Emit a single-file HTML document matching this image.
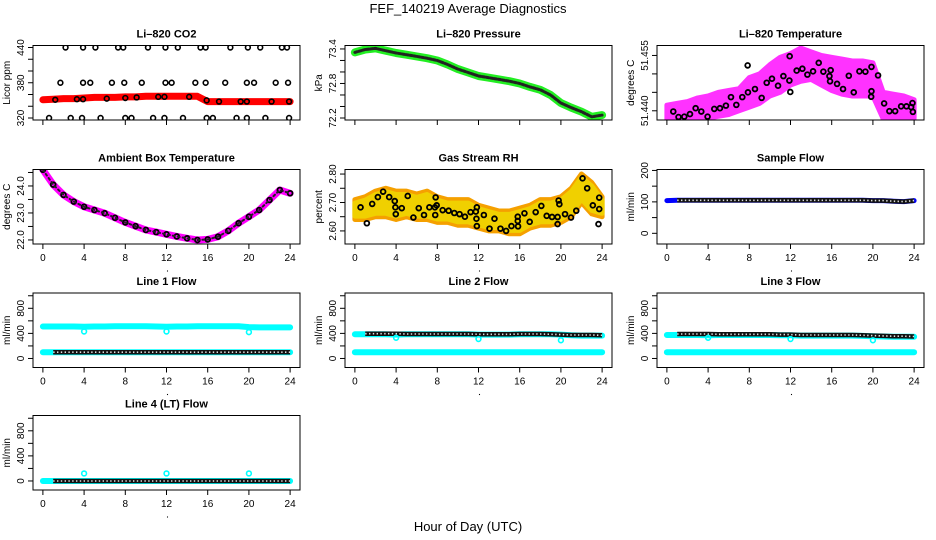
<!DOCTYPE html>
<html><head><meta charset="utf-8">
<style>
body{margin:0;background:#fff;}
svg{display:block;font-family:"Liberation Sans",Arial,sans-serif;}
</style></head>
<body>
<svg id="chart" width="936" height="540" viewBox="0 0 936 540">
<rect width="936" height="540" fill="#fff"/>
<text x="468" y="13" text-anchor="middle" font-size="13">FEF_140219  Average Diagnostics</text>
<text x="468" y="531" text-anchor="middle" font-size="13">Hour of Day (UTC)</text>
</svg>
<script>
// ---------- data ----------
const hours = [0,1,2,3,4,5,6,7,8,9,10,11,12,13,14,15,16,17,18,19,20,21,22,23,24];
const xTicks = [0,4,8,12,16,20,24];
// CO2
const co2Band = [351,352,353,353,354,355,355,355,356,356,357,357,357,357,357,357,348,348,348,348,348,348,348,348,348];
const co2HighH = [2.2,3.9,5.1,7.3,7.8,10.2,11.9,13.1,15.3,15.8,18.2,19.9,21.1,23.2,23.7];
const co2MidH = [1.7,3.9,4.6,6.7,7.9,9.6,11.9,12.5,14.8,15.8,17.7,19.8,20.5,22.6,23.8];
const co2LowH = [0.6,2.7,3.8,5.6,8.0,8.6,10.7,11.8,13.6,15.9,16.5,18.8,19.8,21.6,23.9];
const co2BandPtsH = [1.2,3.3,3.9,6.2,8.0,9.1,11.2,11.8,14.2,15.9,17.1,19.2,19.8,22.2,23.9];
const co2BandPtsV = [351,352,352,353,354,355,356,356,356,350,348,348,348,348,348];
// Pressure
const pressure = [73.34,73.39,73.41,73.37,73.33,73.30,73.27,73.24,73.20,73.13,73.05,72.99,72.93,72.90,72.87,72.84,72.80,72.74,72.69,72.60,72.46,72.38,72.31,72.22,72.25];
// Li-820 temperature
const tempUpper = [51.4415,51.4420,51.4425,51.4435,51.4440,51.4450,51.4455,51.4460,51.4490,51.4500,51.4525,51.4545,51.4555,51.4570,51.4560,51.4550,51.4545,51.4540,51.4535,51.4535,51.4530,51.4450,51.4445,51.4440,51.4430];
const tempLower = [51.4375,51.4375,51.4375,51.4375,51.4380,51.4385,51.4390,51.4400,51.4410,51.4420,51.4440,51.4450,51.4470,51.4480,51.4485,51.4470,51.4455,51.4445,51.4440,51.4440,51.4440,51.4378,51.4375,51.4375,51.4380];
const tempPtH = [0.62,1.13,1.69,2.24,2.79,3.34,3.95,4.6,5.15,5.73,6.22,6.74,7.32,7.84,7.87,8.55,9.2,9.69,10.2,10.79,11.31,11.89,11.92,11.98,12.6,13.15,13.64,14.19,14.74,15.19,15.78,15.9,15.84,16.52,17.1,17.66,18.14,18.69,19.27,19.86,19.86,19.83,20.5,21.09,21.6,22.16,22.74,23.26,23.71,23.84,23.88];
const tempPtV = [51.4398,51.4383,51.4384,51.4391,51.4407,51.4398,51.4384,51.4405,51.4407,51.4414,51.4437,51.4416,51.4437,51.4523,51.4450,51.4459,51.4435,51.4476,51.4487,51.4468,51.4494,51.4482,51.4548,51.4451,51.4509,51.4514,51.4498,51.4507,51.4530,51.4506,51.4494,51.4510,51.4480,51.4473,51.4459,51.4495,51.4450,51.4507,51.4506,51.4519,51.4453,51.4438,51.4496,51.4420,51.4399,51.4399,51.4412,51.4412,51.4410,51.4421,51.4397];
// Ambient
const ambient = [24.60,24.05,23.67,23.42,23.23,23.11,22.99,22.82,22.65,22.51,22.37,22.29,22.21,22.13,22.06,22.00,22.02,22.12,22.34,22.62,22.86,23.11,23.48,23.85,23.73];
// RH
const rhLower = [2.64,2.64,2.65,2.65,2.64,2.65,2.64,2.64,2.63,2.63,2.62,2.62,2.61,2.60,2.60,2.59,2.59,2.61,2.62,2.62,2.63,2.65,2.70,2.66,2.65];
const rhUpper = [2.71,2.72,2.74,2.75,2.74,2.74,2.73,2.74,2.72,2.71,2.71,2.71,2.69,2.68,2.67,2.67,2.68,2.69,2.71,2.71,2.72,2.75,2.80,2.77,2.72];
const rhPtH = [0.55,1.16,1.68,2.23,2.74,3.33,3.87,3.93,3.97,4.55,5.13,5.68,6.2,6.71,7.23,7.77,7.84,7.8,7.94,8.52,9.1,9.65,10.16,10.68,11.23,11.74,11.84,11.8,11.84,12.52,13.07,13.55,14.13,14.68,15.2,15.81,15.81,15.84,16.46,16.97,17.55,18.1,18.62,19.14,19.68,19.78,19.85,19.68,20.4,20.98,21.49,22.1,22.55,23.1,23.72,23.72,23.65];
const rhPtV = [2.683,2.627,2.695,2.719,2.738,2.719,2.705,2.683,2.659,2.680,2.723,2.647,2.680,2.656,2.683,2.683,2.718,2.656,2.690,2.673,2.671,2.663,2.659,2.650,2.666,2.668,2.683,2.643,2.617,2.656,2.608,2.643,2.608,2.600,2.617,2.650,2.635,2.616,2.662,2.632,2.666,2.688,2.653,2.649,2.649,2.707,2.694,2.624,2.659,2.647,2.671,2.785,2.750,2.690,2.717,2.677,2.624];
// Sample flow
const sampleFlow = [104,105,105,105,105,105,105,105,105,105,105,105,105,105,105,105,105,105,105,105,104,104,102,101,104];
// Line flows
const line1High = [510,510,510,510,505,510,510,515,515,515,515,510,505,510,510,515,515,515,515,515,500,495,495,495,495];
const line1Low = [100,100,100,100,100,100,100,100,100,100,100,100,100,100,100,100,100,100,100,100,100,100,100,100,100];
const line1Black = [100,100,100,100,100,100,100,100,100,100,100,100,100,100,100,100,100,100,100,100,100,100,100,100,100];
const line2High = [385,385,385,385,380,385,385,385,385,385,385,385,380,380,380,380,385,385,385,385,380,370,365,365,365];
const line2Low = [100,100,100,100,100,100,100,100,100,100,100,100,100,100,100,100,100,100,100,100,100,100,100,100,100];
const line2Black = [395,395,395,395,395,390,390,390,390,390,390,390,385,385,385,385,390,390,390,385,380,375,375,375,370];
const line3High = [375,375,375,375,370,375,375,375,375,375,375,370,370,365,365,365,365,365,365,360,355,350,345,345,345];
const line3Low = [100,100,100,100,100,100,100,100,100,100,100,100,100,100,100,100,100,100,100,100,100,100,100,100,100];
const line3Black = [390,390,390,390,390,385,385,385,385,385,385,380,380,375,375,375,375,375,375,370,365,360,355,355,350];
const line4Low = [0,0,0,0,0,0,0,0,0,0,0,0,0,0,0,0,0,0,0,0,0,0,0,0,0];
const line4Black = [0,0,0,0,0,0,0,0,0,0,0,0,0,0,0,0,0,0,0,0,0,0,0,0,0];
const dipHours = [4,12,20];
const line1Dips = [430,430,420];
const line2Dips = [330,310,290];
const line3Dips = [330,310,290];
const line4Spikes = [120,120,120];

// ---------- layout ----------
const NS = "http://www.w3.org/2000/svg";
const svg = document.getElementById('chart');
const colLeft = [33,345,657], boxW = 267;
const rowTop = [45.5,169.5,293,415.5], boxH = 74.5;
function mk(tag, attrs, parent){const e=document.createElementNS(NS,tag);for(const k in attrs)e.setAttribute(k,attrs[k]);(parent||svg).appendChild(e);return e;}

function makePanel(o){
  const L=colLeft[o.col], T=rowTop[o.row];
  const g=mk('g',{});
  
  
  const sx=h=>L+(h+0.96)/25.92*boxW;
  const sy=v=>T+boxH-(v-o.ylim[0])/(o.ylim[1]-o.ylim[0])*boxH;
  const clipId='clip-'+o.name;
  const cp=mk('clipPath',{id:clipId},g); mk('rect',{x:L,y:T,width:boxW,height:boxH},cp);
  const plot=mk('g',{'clip-path':'url(#'+clipId+')'},g);
  
  
  const t=mk('text',{x:L+boxW/2,y:T-8,'text-anchor':'middle','font-size':11,'font-weight':'bold'},g);
  t.textContent=o.title;
  
  
  const xa=mk('g',{stroke:'#000','stroke-width':1},g);
  
  
  mk('line',{x1:sx(xTicks[0]),x2:sx(xTicks[xTicks.length-1]),y1:T+boxH,y2:T+boxH},xa);
  xTicks.forEach(h=>{
    mk('line',{x1:sx(h),x2:sx(h),y1:T+boxH,y2:T+boxH+5},xa);
    if(o.row>0){const tl=mk('text',{x:sx(h),y:T+boxH+17,'text-anchor':'middle','font-size':10,stroke:'none'},xa);tl.textContent=h;
      
      }
  });
  if(o.row>0) mk('circle',{cx:sx(12)+1,cy:T+boxH+27,r:0.6,fill:'#000',stroke:'none'},xa);
  const ya=mk('g',{stroke:'#000','stroke-width':1},g);
  
  
  mk('line',{x1:L,x2:L,y1:sy(o.yticks[0]),y2:sy(o.yticks[o.yticks.length-1])},ya);
  o.yticks.forEach(v=>mk('line',{x1:L-5,x2:L,y1:sy(v),y2:sy(v)},ya));
  o.ylabels.forEach(v=>{const yy=sy(v);const tl=mk('text',{x:L-9,y:yy,'text-anchor':'middle','font-size':10,stroke:'none',transform:'rotate(-90 '+(L-9)+' '+yy+')'},ya);tl.textContent=o.fmt(v);
    
    });
  const yl=mk('text',{x:L-23,y:T+boxH/2,'text-anchor':'middle','font-size':10,transform:'rotate(-90 '+(L-23)+' '+(T+boxH/2)+')'},g);
  yl.textContent=o.ylab;
  
  
  mk('rect',{x:L,y:T,width:boxW,height:boxH,fill:'none',stroke:'#000','stroke-width':1},g);
  return {plot,sx,sy};
}
function band(p,hs,vals,color,w,name){
  const d=hs.map((h,i)=>(i?'L':'M')+p.sx(h).toFixed(1)+' '+p.sy(vals[i]).toFixed(1)).join(' ');
  const e=mk('path',{d:d,fill:'none',stroke:color,'stroke-width':w,'stroke-linecap':'round','stroke-linejoin':'round'},p.plot);
  
  
  return e;
}
function area(p,hs,lo,hi,color,name,op){
  let d=hs.map((h,i)=>(i?'L':'M')+p.sx(h).toFixed(1)+' '+p.sy(hi[i]).toFixed(1)).join(' ');
  for(let i=hs.length-1;i>=0;i--) d+=' L'+p.sx(hs[i]).toFixed(1)+' '+p.sy(lo[i]).toFixed(1);
  const e=mk('path',{d:d+' Z',fill:color,stroke:color,'stroke-width':5,'stroke-linejoin':'round',opacity:op||1},p.plot);
  
  
}
function pts(p,hs,vals,color,name,sw){
  hs.forEach((h,i)=>{
    const c=mk('circle',{cx:p.sx(h),cy:p.sy(vals[i]),r:2.4,fill:'none',stroke:color,'stroke-width':sw||1.6},p.plot);
    
    
  });
}
function beads(p,hs,vals,name){
  const h2=hs.slice(1), v2=vals.slice(1);
  const e=band(p,h2,v2,'#111',4.5,name);
  e.setAttribute('stroke-linecap','butt');
  const c=band(p,h2,v2,'#ddd',1.6,name+'-core');
  c.setAttribute('stroke-dasharray','1.4 2.4');
  c.setAttribute('stroke-linecap','butt');
}
const f0=v=>String(v), f1=v=>v.toFixed(1), f2=v=>v.toFixed(2), f3=v=>v.toFixed(3);
const r20=(a,b,s)=>{const r=[];for(let v=a;v<=b+1e-9;v+=s)r.push(+v.toFixed(4));return r;};

let p=makePanel({name:'co2',col:0,row:0,title:'Li\u2013820 CO2',ylab:'Licor ppm',ylim:[316.6,443.4],yticks:r20(320,440,20),ylabels:[320,380,440],fmt:f0});
band(p,hours,co2Band,'#f00',7,'co2-band');
pts(p,co2HighH,co2HighH.map(()=>440),'#000','co2-point-440');
pts(p,co2MidH,co2MidH.map(()=>380),'#000','co2-point-380');
pts(p,co2LowH,co2LowH.map(()=>320),'#000','co2-point-320');
pts(p,co2BandPtsH,co2BandPtsV,'#000','co2-point');

p=makePanel({name:'pressure',col:1,row:0,title:'Li\u2013820 Pressure',ylab:'kPa',ylim:[72.165,73.46],yticks:r20(72.2,73.4,0.2),ylabels:[72.2,72.8,73.4],fmt:f1});
band(p,hours,pressure,'#2e2',8,'pressure-band');
band(p,hours,pressure,'#222',3,'pressure-points').setAttribute('stroke-dasharray','2.5 1.5');

p=makePanel({name:'li820-temp',col:2,row:0,title:'Li\u2013820 Temperature',ylab:'degrees C',ylim:[51.4375,51.4577],yticks:[51.440,51.445,51.450,51.455],ylabels:[51.440,51.455],fmt:f3});
area(p,hours,tempLower,tempUpper,'#f0f','temp-cloud',0.8);
pts(p,tempPtH,tempPtV,'#000','temp-point',1.8);

p=makePanel({name:'ambient',col:0,row:1,title:'Ambient Box Temperature',ylab:'degrees C',ylim:[21.85,24.61],yticks:r20(22,24.5,0.5),ylabels:[22,23,24],fmt:f1});
band(p,hours,ambient,'#f0f',7,'ambient-band');
pts(p,hours,ambient,'#000','ambient-point',1.8);
band(p,hours,ambient,'#222',2,'ambient-line').setAttribute('stroke-dasharray','2 3');

p=makePanel({name:'rh',col:1,row:1,title:'Gas Stream RH',ylab:'percent',ylim:[2.554,2.816],yticks:r20(2.6,2.8,0.05),ylabels:[2.6,2.7,2.8],fmt:f2});
area(p,hours,rhLower,rhUpper,'#f5a000','rh-cloud');
area(p,hours,rhLower.map(v=>v+0.012),rhUpper.map(v=>v-0.012),'#f0d000','rh-cloud-inner');
pts(p,rhPtH,rhPtV,'#000','rh-point',1.8);

p=makePanel({name:'sample-flow',col:2,row:1,title:'Sample Flow',ylab:'ml/min',ylim:[-34,203],yticks:[0,50,100,150,200],ylabels:[0,100,200],fmt:f0});
band(p,hours,sampleFlow,'#00f',5,'sample-flow-band');
beads(p,hours,sampleFlow,'sample-flow-points');

const fl={ylim:[-144,1044],yticks:[0,200,400,600,800,1000],ylabels:[0,400,800],fmt:f0,ylab:'ml/min'};
p=makePanel(Object.assign({name:'line1',col:0,row:2,title:'Line 1 Flow'},fl));
band(p,hours,line1High,'#0ff',6,'line1-high-band');
band(p,hours,line1Low,'#0ff',6,'line1-low-band');
beads(p,hours,line1Black,'line1-points');
pts(p,dipHours,line1Dips,'#0ff','line1-dip');
p=makePanel(Object.assign({name:'line2',col:1,row:2,title:'Line 2 Flow'},fl));
band(p,hours,line2High,'#0ff',6,'line2-high-band');
band(p,hours,line2Low,'#0ff',6,'line2-low-band');
beads(p,hours,line2Black,'line2-points');
pts(p,dipHours,line2Dips,'#0ff','line2-dip');
p=makePanel(Object.assign({name:'line3',col:2,row:2,title:'Line 3 Flow'},fl));
band(p,hours,line3High,'#0ff',6,'line3-high-band');
band(p,hours,line3Low,'#0ff',6,'line3-low-band');
beads(p,hours,line3Black,'line3-points');
pts(p,dipHours,line3Dips,'#0ff','line3-dip');
p=makePanel(Object.assign({name:'line4',col:0,row:3,title:'Line 4 (LT) Flow'},fl));
band(p,hours,line4Low,'#0ff',6,'line4-band');
beads(p,hours,line4Black,'line4-points');
pts(p,dipHours,line4Spikes,'#0ff','line4-spike');
</script>
</body></html>
